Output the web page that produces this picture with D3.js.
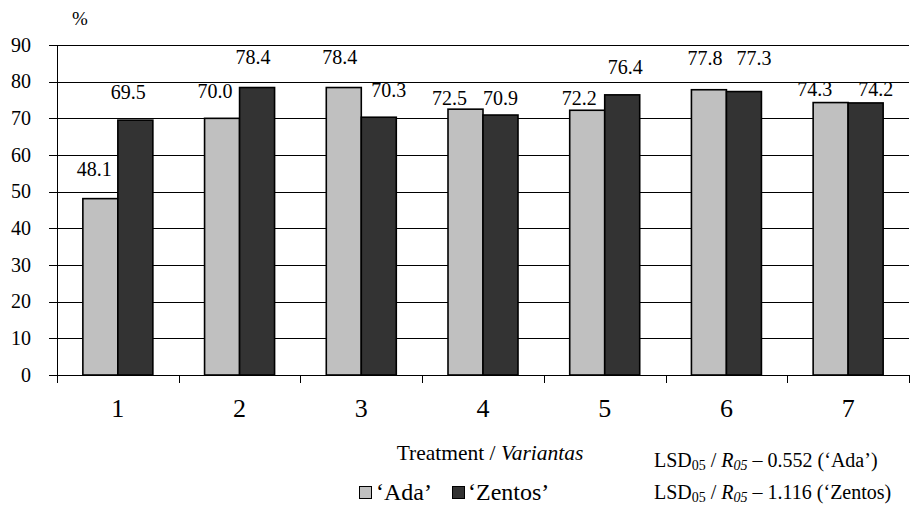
<!DOCTYPE html>
<html><head><meta charset="utf-8">
<script src="https://cdn.jsdelivr.net/npm/d3@7"></script>
<style>body{margin:0;background:#fff}</style>
</head><body><svg id="c" width="910" height="509" font-family="'Liberation Serif', 'Times New Roman', serif"></svg>
<script>
const categories = ["1","2","3","4","5","6","7"];
const ada = [48.1, 70.0, 78.4, 72.5, 72.2, 77.8, 74.3];
const zentos = [69.5, 78.4, 70.3, 70.9, 76.4, 77.3, 74.2];
const yTicks = [0,10,20,30,40,50,60,70,80,90];
const seriesNames = ["‘Ada’", "‘Zentos’"];
// label nudges (layout only, px): [dx, dy of label centre relative to bar top]
const adaNudge = [[-6,-30],[-7,-27],[-4,-31],[-16,-11],[-8,-12],[-4,-32],[-16,-14]];
const zenNudge = [[-7,-28],[-4,-31],[10,-27],[0,-17],[3,-28],[10,-34],[10,-14]];

const svg = d3.select("#c");
const L=57, R=909, T=45, B=375;
const x = d3.scaleBand().domain(categories).range([L,R]).padding(0);
const y = d3.scaleLinear().domain([0,90]).range([B,T]);
const barW = 35;
const FF = "'Liberation Serif', 'Times New Roman', serif";

svg.append("g").selectAll("line").data(yTicks).join("line")
  .attr("x1",49).attr("x2",R).attr("y1",d=>Math.round(y(d))+0.5).attr("y2",d=>Math.round(y(d))+0.5)
  .attr("stroke","#000").attr("stroke-width",1);
svg.append("g").selectAll("text").data(yTicks).join("text")
  .attr("font-family",FF)
  .attr("x",31).attr("y",d=>y(d)+6.5).attr("text-anchor","end")
  .attr("font-size",20).text(d=>d);
svg.append("line").attr("x1",L+0.5).attr("x2",L+0.5).attr("y1",T).attr("y2",B+8).attr("stroke","#000");
svg.append("g").selectAll("line").data(categories).join("line")
  .attr("x1",(d,i)=>Math.round(L+(i+1)*x.bandwidth())+0.5)
  .attr("x2",(d,i)=>Math.round(L+(i+1)*x.bandwidth())+0.5)
  .attr("y1",B).attr("y2",B+8).attr("stroke","#000");

const g = svg.append("g");
g.selectAll("rect.a").data(ada).join("rect").attr("class","a")
  .attr("x",(d,i)=>x(categories[i])+x.bandwidth()/2-barW).attr("width",barW)
  .attr("y",d=>y(d)).attr("height",d=>B-y(d))
  .attr("fill","#c0c0c0").attr("stroke","#000").attr("stroke-width",1.6);
g.selectAll("rect.z").data(zentos).join("rect").attr("class","z")
  .attr("x",(d,i)=>x(categories[i])+x.bandwidth()/2).attr("width",barW)
  .attr("y",d=>y(d)).attr("height",d=>B-y(d))
  .attr("fill","#333333").attr("stroke","#000").attr("stroke-width",1.6);

g.selectAll("text.la").data(ada).join("text").attr("class","la").attr("font-family",FF)
  .attr("x",(d,i)=>x(categories[i])+x.bandwidth()/2-barW/2+adaNudge[i][0])
  .attr("y",(d,i)=>y(d)+adaNudge[i][1]+7).attr("text-anchor","middle")
  .attr("font-size",20).text(d=>d.toFixed(1));
g.selectAll("text.lz").data(zentos).join("text").attr("class","lz").attr("font-family",FF)
  .attr("x",(d,i)=>x(categories[i])+x.bandwidth()/2+barW/2+zenNudge[i][0])
  .attr("y",(d,i)=>y(d)+zenNudge[i][1]+7).attr("text-anchor","middle")
  .attr("font-size",20).text(d=>d.toFixed(1));

svg.append("g").selectAll("text").data(categories).join("text").attr("font-family",FF)
  .attr("x",d=>x(d)+x.bandwidth()/2).attr("y",417).attr("text-anchor","middle")
  .attr("font-size",26).text(d=>d);

svg.append("text").attr("font-family",FF).attr("x",72).attr("y",25).attr("font-size",19).text("%");

const t = svg.append("text").attr("font-family",FF).attr("x",490).attr("y",460).attr("text-anchor","middle").attr("font-size",21.5);
t.append("tspan").text("Treatment / ");
t.append("tspan").attr("font-style","italic").text("Variantas");

const lg = svg.append("g");
lg.append("rect").attr("x",359.5).attr("y",486.5).attr("width",12).attr("height",12).attr("fill","#c0c0c0").attr("stroke","#000");
lg.append("text").attr("font-family",FF).attr("x",376).attr("y",500).attr("font-size",24).text(seriesNames[0]);
lg.append("rect").attr("x",452.5).attr("y",486.5).attr("width",12).attr("height",12).attr("fill","#333333").attr("stroke","#000");
lg.append("text").attr("font-family",FF).attr("x",468).attr("y",500).attr("font-size",24).text(seriesNames[1]);

function lsd(yy, val, name){
  const tx = svg.append("text").attr("font-family",FF).attr("x",654).attr("y",yy).attr("font-size",20);
  tx.append("tspan").text("LSD");
  tx.append("tspan").attr("font-size",14).attr("dy",3).text("05");
  tx.append("tspan").attr("dy",-3).text(" / ");
  tx.append("tspan").attr("font-style","italic").text("R");
  tx.append("tspan").attr("font-style","italic").attr("font-size",14).attr("dy",3).text("05");
  tx.append("tspan").attr("dy",-3).text(" – " + val + " (" + name + ")");
}
lsd(467, "0.552", "‘Ada’");
lsd(499, "1.116", "‘Zentos");
</script></body></html>
